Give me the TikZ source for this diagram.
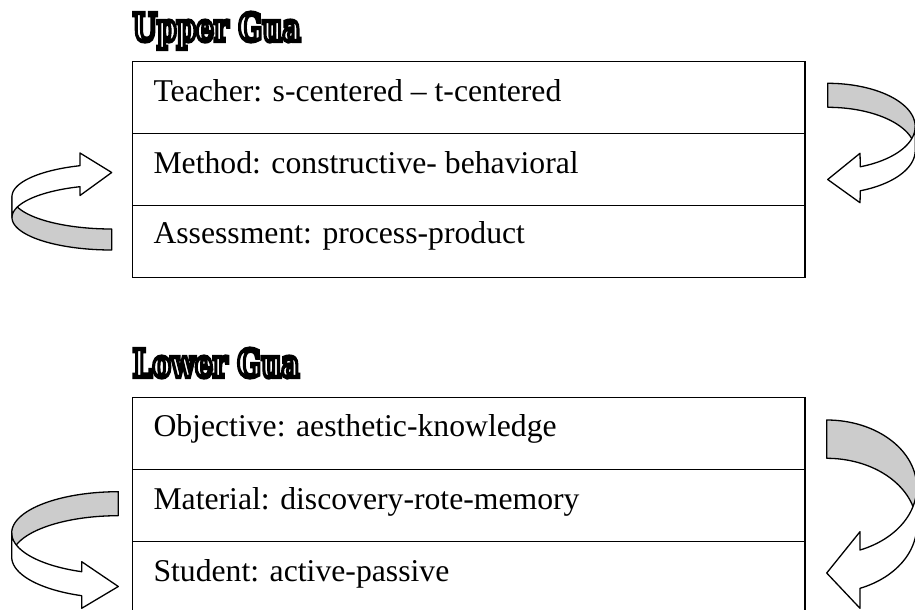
\documentclass[tikz,border=0pt]{standalone}
\usepackage{fontspec}
\setmainfont{Liberation Serif}
\newfontfamily\headfont{DejaVu Serif}
\usepackage{graphicx}
\definecolor{ribbongray}{HTML}{CCCCCC}
\newsavebox\hbx
\newcommand\headtext[1]{\scalebox{\hsx}[\hsy]{\special{pdf:literal direct 1 Tr 1.1 w 0 0 0 RG}\headfont\bfseries #1\special{pdf:literal direct 0 Tr}}}
\begin{document}%
\sbox\hbx{\headfont\bfseries Upper Gua}%
\pgfmathsetmacro\hsx{168/\the\wd\hbx}%
\pgfmathsetmacro\hsy{28.5/\the\ht\hbx}%
\begin{tikzpicture}[x=1pt,y=-1pt,
  cell/.style={draw, line width=1.5pt, rectangle, minimum width=672.3pt, minimum height=72pt, anchor=north west, inner sep=0pt},
  celltext/.style={anchor=base west, inner sep=0pt, font=\fontsize{31.7}{38}\selectfont},
  heading/.style={anchor=base west, inner sep=0pt},
  ribbon/.style={draw, line width=1.3pt, line join=round},
  back/.style={ribbon, fill=ribbongray},
  front/.style={ribbon, fill=white}]
\useasboundingbox (0,0) rectangle (915,610);
% headings
\node[heading] (uphead) at (132.5,41) {\headtext{Upper Gua}};
\node[heading] (lohead) at (132.5,377) {\headtext{Lower Gua}};
% upper box
\node[cell] (u1) at (131.7,60.7) {};
\node[cell] (u2) at (131.7,132.7) {};
\node[cell] (u3) at (131.7,204.7) {};
\node[celltext] (tu1) at (153.3,101) {Teacher: s-centered -- t-centered};
\node[celltext] (tu2) at (153.3,173.3) {Method: constructive- behavioral};
\node[celltext] (tu3) at (153.3,243.3) {Assessment: process-product};
% lower box
\node[cell] (l1) at (131.7,396.7) {};
\node[cell] (l2) at (131.7,468.7) {};
\node[cell] (l3) at (131.7,540.7) {};
\node[celltext] (tl1) at (153.3,436.7) {Objective: aesthetic-knowledge};
\node[celltext] (tl2) at (153.3,509) {Material: discovery-rote-memory};
\node[celltext] (tl3) at (153.3,581.7) {Student: active-passive};
% upper-right arrow
\def\rcx{827.7}\def\rcyA{126.6}\def\rcyB{150.6}\def\rrx{87.5}\def\rry{43.3}
\draw[back] plot[domain=-90:0,samples=40] ({\rcx+\rrx*cos(\x)},{\rcyA+\rry*sin(\x)})
  -- plot[domain=0:-90,samples=40] ({\rcx+\rrx*cos(\x)},{\rcyB+\rry*sin(\x)}) -- cycle;
\draw[front] plot[domain=68.1:0,samples=30] ({\rcx+\rrx*cos(\x)},{\rcyA+\rry*sin(\x)})
  -- plot[domain=0:68.1,samples=30] ({\rcx+\rrx*cos(\x)},{\rcyB+\rry*sin(\x)})
  -- (860,202.7) -- (\rcx,179.5) -- (860,153.3) -- cycle;
% lower-right arrow
\def\rcx{826.7}\def\rcyA{487.4}\def\rcyB{525.7}\def\rrx{90}\def\rry{67.4}
\draw[back] plot[domain=-90:0,samples=40] ({\rcx+\rrx*cos(\x)},{\rcyA+\rry*sin(\x)})
  -- plot[domain=0:-90,samples=40] ({\rcx+\rrx*cos(\x)},{\rcyB+\rry*sin(\x)}) -- cycle;
\draw[front] plot[domain=68.28:0,samples=30] ({\rcx+\rrx*cos(\x)},{\rcyA+\rry*sin(\x)})
  -- plot[domain=0:68.28,samples=30] ({\rcx+\rrx*cos(\x)},{\rcyB+\rry*sin(\x)})
  -- (860,608.3) -- (\rcx,573) -- (860,531.7) -- cycle;
% lower-left arrow
\def\rcx{118.3}\def\rcyA{532.95}\def\rcyB{556.95}\def\rrx{106.6}\def\rry{41.25}
\draw[back] plot[domain=-90:-180,samples=40] ({\rcx+\rrx*cos(\x)},{\rcyA+\rry*sin(\x)})
  -- plot[domain=-180:-90,samples=40] ({\rcx+\rrx*cos(\x)},{\rcyB+\rry*sin(\x)}) -- cycle;
\draw[front] plot[domain=110.06:180,samples=30] ({\rcx+\rrx*cos(\x)},{\rcyA+\rry*sin(\x)})
  -- plot[domain=180:110.06,samples=30] ({\rcx+\rrx*cos(\x)},{\rcyB+\rry*sin(\x)})
  -- (81.7,608.3) -- (\rcx,586.5) -- (81.7,561.7) -- cycle;
% upper-left arrow
\def\rcx{111.7}\def\rcyA{196.5}\def\rcyB{217.5}\def\rrx{99.7}\def\rry{32.5}
\draw[back] plot[domain=90:180,samples=40] ({\rcx+\rrx*cos(\x)},{\rcyA+\rry*sin(\x)})
  -- plot[domain=180:90,samples=40] ({\rcx+\rrx*cos(\x)},{\rcyB+\rry*sin(\x)}) -- cycle;
\draw[front] plot[domain=251.46:180,samples=30] ({\rcx+\rrx*cos(\x)},{\rcyA+\rry*sin(\x)})
  -- plot[domain=180:251.46,samples=30] ({\rcx+\rrx*cos(\x)},{\rcyB+\rry*sin(\x)})
  -- (80,195.5) -- (\rcx,172.5) -- (80,153) -- cycle;
\end{tikzpicture}
\end{document}
